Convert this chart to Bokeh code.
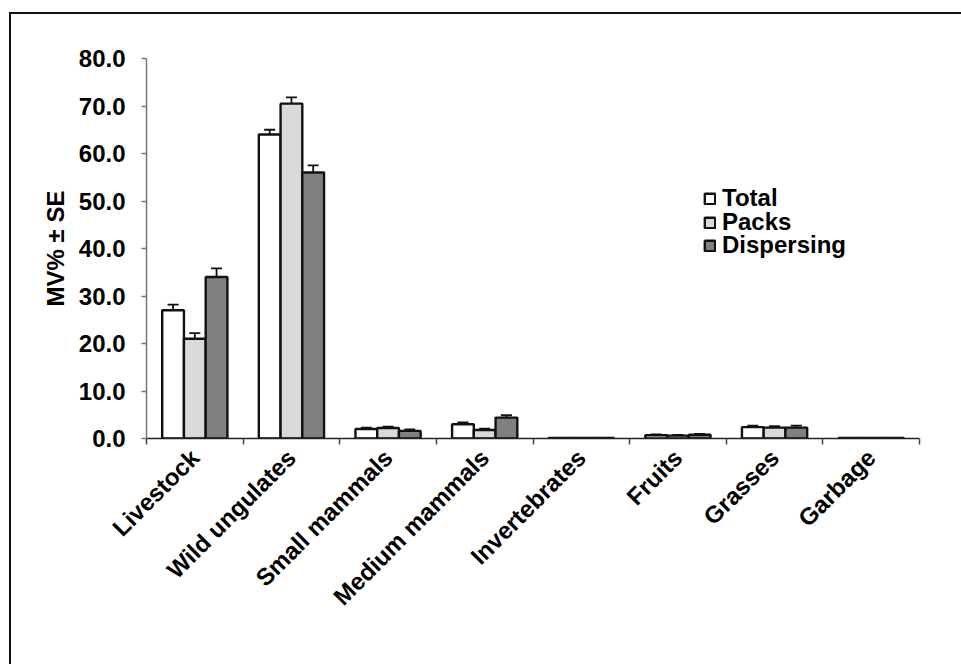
from bokeh.plotting import figure
from bokeh.models import (ColumnDataSource, Range1d, LinearAxis,
                          FixedTicker, Whisker, TeeHead, Legend, LegendItem, NumeralTickFormatter)
from bokeh.embed import file_html
from bokeh.resources import INLINE
import math

categories = ["Livestock", "Wild ungulates", "Small mammals", "Medium mammals",
              "Invertebrates", "Fruits", "Grasses", "Garbage"]
series = ["Total", "Packs", "Dispersing"]
total = [27.0, 64.0, 2.0, 3.0, 0.1, 0.7, 2.4, 0.1]
total_se = [1.2, 1.0, 0.3, 0.4, 0.05, 0.15, 0.3, 0.05]
packs = [21.0, 70.5, 2.2, 1.8, 0.1, 0.6, 2.3, 0.1]
packs_se = [1.2, 1.3, 0.3, 0.3, 0.05, 0.15, 0.3, 0.05]
dispersing = [34.0, 56.0, 1.6, 4.4, 0.1, 0.8, 2.3, 0.1]
dispersing_se = [1.8, 1.5, 0.3, 0.5, 0.05, 0.15, 0.4, 0.05]
y_ticks = [0, 10, 20, 30, 40, 50, 60, 70, 80]

colors = ["#ffffff", "#d9d9d9", "#808080"]
values = [total, packs, dispersing]
errors = [total_se, packs_se, dispersing_se]
bw = 0.225
offsets = [-bw, 0.0, bw]
n = len(categories)
centers = [i + 0.5 for i in range(n)]
legend_y = [226, 202, 179]

FONT = "Liberation Sans"
FS = "24px"

p = figure(width=950, height=650, x_range=Range1d(0, n), y_range=Range1d(0, 80),
           output_backend="svg", toolbar_location=None, x_axis_location=None,
           min_border_left=135, min_border_top=44, min_border_right=44, min_border_bottom=228)
p.margin = (12, 0, 0, 9)
p.styles = {"border-left": "2px solid #111", "border-top": "2px solid #111", "box-sizing": "content-box"}
p.xgrid.visible = False
p.ygrid.visible = False
p.outline_line_color = None
p.background_fill_color = "white"

for name, col, vals, errs, off, ly in zip(series, colors, values, errors, offsets, legend_y):
    src = ColumnDataSource(dict(x=[c + off for c in centers], v=vals,
                                lo=[a - b for a, b in zip(vals, errs)],
                                hi=[a + b for a, b in zip(vals, errs)]))
    r = p.vbar(x="x", top="v", width=bw, source=src,
               fill_color=col, line_color="#111111", line_width=2.4)
    w = Whisker(base="x", upper="hi", lower="lo", source=src,
                line_color="#111111", line_width=1.8,
                upper_head=TeeHead(size=11, line_color="#111111", line_width=1.8),
                lower_head=TeeHead(size=11, line_color="#111111", line_width=1.8))
    p.add_layout(w)
    leg = Legend(items=[LegendItem(label=name, renderers=[r])], location=(557, ly),
                 label_text_font=FONT, label_text_font_style="bold", label_text_font_size="24px",
                 label_text_color="black", glyph_width=13, glyph_height=13, label_height=22,
                 spacing=0, padding=0, label_standoff=6, border_line_color=None,
                 background_fill_alpha=0)
    p.add_layout(leg)

# y axis
yax = p.yaxis[0]
yax.ticker = FixedTicker(ticks=y_ticks)
yax.formatter = NumeralTickFormatter(format="0.0")
yax.axis_label = "MV% ± SE"
yax.axis_label_text_font = FONT
yax.axis_label_text_font_style = "bold"
yax.axis_label_text_font_size = FS
yax.axis_label_text_color = "black"
yax.axis_label_standoff = 7
yax.major_label_text_font = FONT
yax.major_label_text_font_style = "bold"
yax.major_label_text_font_size = FS
yax.major_label_text_color = "black"
yax.major_label_standoff = 16
yax.axis_line_color = "#777777"
yax.axis_line_width = 1.5
yax.major_tick_line_color = "#777777"
yax.major_tick_line_width = 1.5
yax.major_tick_in = 0
yax.major_tick_out = 5
yax.minor_tick_line_color = None

# x axis: labels at category centres, minor ticks at category boundaries
xax = LinearAxis(ticker=FixedTicker(ticks=centers, minor_ticks=list(range(n + 1))),
                 major_label_overrides={c: lab for c, lab in zip(centers, categories)},
                 axis_line_color="#222222", axis_line_width=1.5,
                 major_tick_line_color=None, major_tick_in=0, major_tick_out=0,
                 minor_tick_line_color="#444444", minor_tick_line_width=1.5,
                 minor_tick_in=0, minor_tick_out=6,
                 major_label_orientation=math.pi / 4, major_label_standoff=9,
                 major_label_text_font=FONT, major_label_text_font_style="bold",
                 major_label_text_font_size=FS, major_label_text_color="black")
p.add_layout(xax, "below")

open("out.html", "w").write(file_html(p, INLINE))
